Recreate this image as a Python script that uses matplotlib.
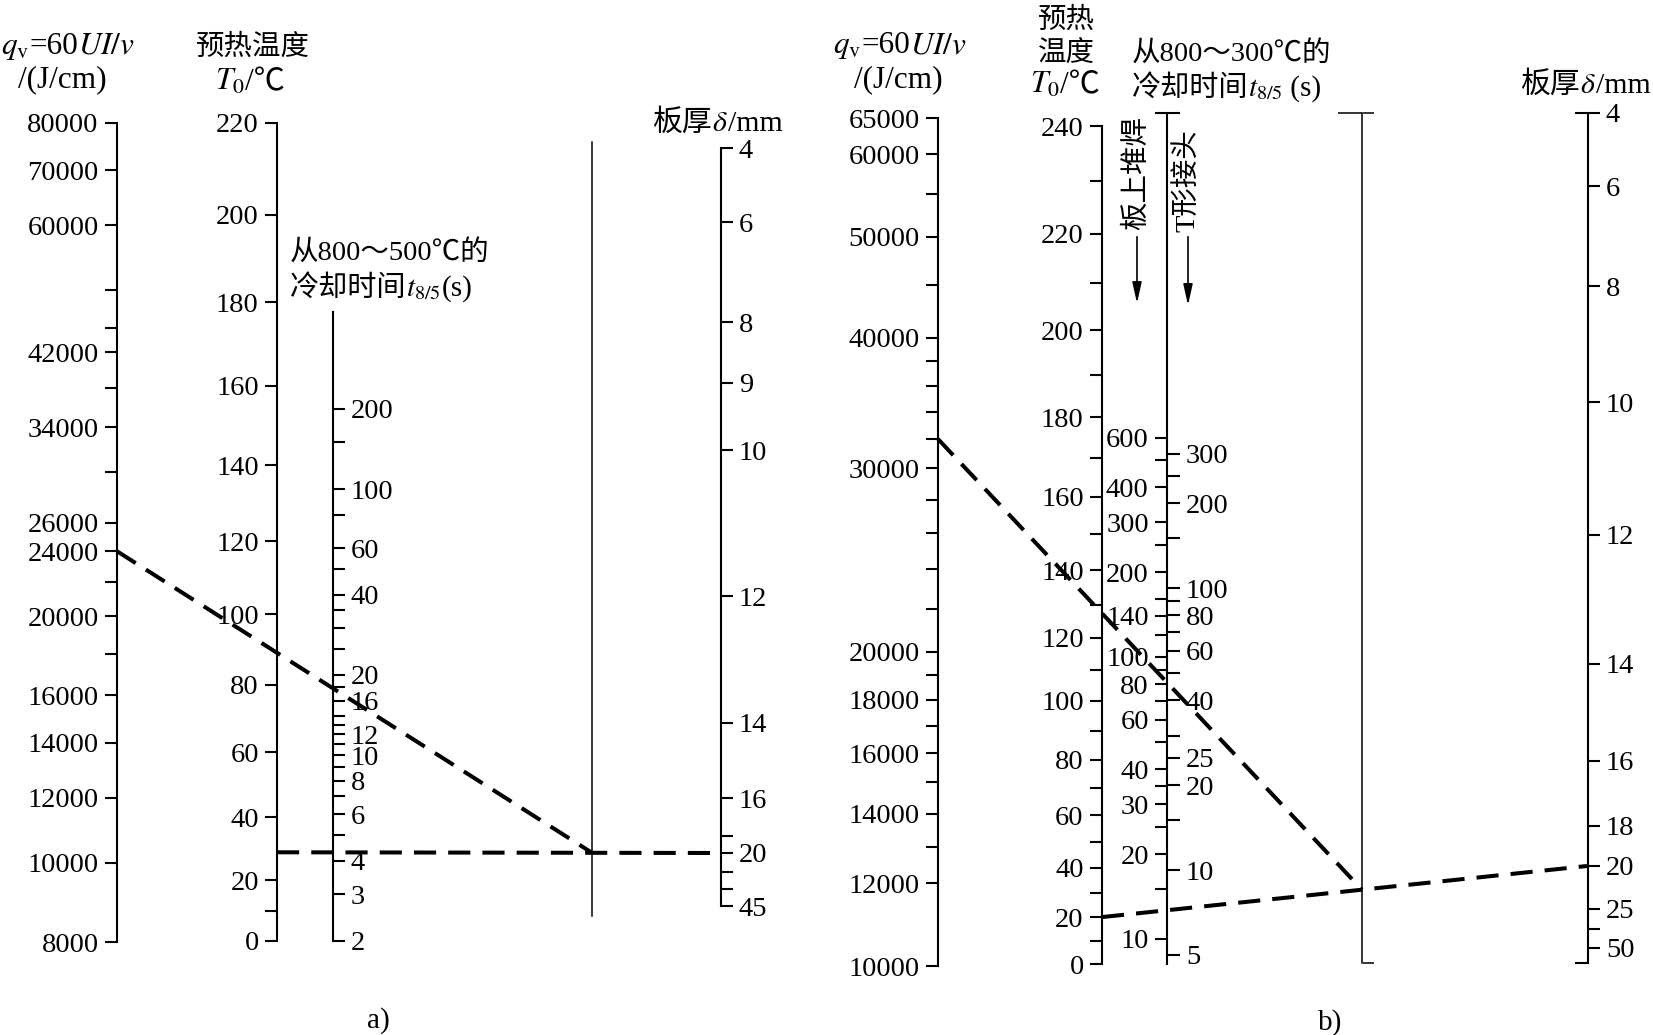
import numpy as np
import matplotlib
matplotlib.use("Agg")
import matplotlib.pyplot as plt
from matplotlib.ticker import FixedLocator, FuncFormatter, NullFormatter, NullLocator
from matplotlib.lines import Line2D
from matplotlib.patches import FancyArrowPatch

W, H = 1653, 1035
FS = 20.5
FAM = ['Liberation Serif', 'Noto Sans CJK SC']
plt.rcParams['font.family'] = FAM
plt.rcParams['mathtext.fontset'] = 'stix'

# ---------------- data: panel a ----------------
qa_labeled = [8000, 10000, 12000, 14000, 16000, 20000, 24000, 26000, 34000, 42000, 60000, 70000, 80000]
qa_minor = [18000, 22000, 30000, 38000, 45000, 50000]
t0a_labeled = list(range(0, 221, 20))
t0a_minor = [10]
ta_labeled = [2, 3, 4, 6, 8, 10, 12, 16, 20, 40, 60, 100, 200]
ta_minor = [5, 7, 9, 11, 13, 14, 18, 25, 30, 35, 50, 80, 150]
da_labeled = [4, 6, 8, 9, 10, 12, 14, 16, 20, 45]
da_minor = [18, 25, 30]
qa_example = 24000
t0a_example = 29
da_example = 20

# ---------------- data: panel b ----------------
qb_labeled = [10000, 12000, 14000, 16000, 18000, 20000, 30000, 40000, 50000, 60000, 65000]
qb_minor = [13000, 15000, 17000, 19000, 22000, 24000, 26000, 28000, 32000, 34000, 36000, 38000, 45000, 55000]
t0b_labeled = list(range(0, 241, 20))
t0b_minor = list(range(10, 231, 20))
tb_bead_labeled = [10, 20, 30, 40, 60, 80, 100, 140, 200, 300, 400, 600]
tb_bead_minor = [15, 25, 35, 50, 70, 90, 120, 160, 250, 500]
tb_tj_labeled = [5, 10, 20, 25, 40, 60, 80, 100, 200, 300]
tb_tj_minor = [15, 30, 50, 70, 90, 150, 250]
db_labeled = [4, 6, 8, 10, 12, 14, 16, 18, 20, 25, 50]
db_minor = [30]
qb_example = 32000
t0b_example = 20
db_example = 20

# empirical plate-thickness scales (value -> vertical pixel row)
da_scale_vals = [4, 6, 8, 9, 10, 12, 14, 16, 18, 20, 25, 30, 45]
da_scale_rows = [148, 222, 322, 383, 450, 596, 723, 798, 836, 853, 872, 889, 906]
db_scale_vals = [4, 6, 8, 10, 12, 14, 16, 18, 20, 25, 30, 50, 100]
db_scale_rows = [113, 186, 286, 402, 535, 664, 761, 826, 866, 909, 929, 948, 963]

fig = plt.figure(figsize=(W / 100, H / 100), dpi=100)
fig.patch.set_facecolor('white')
PX = 0.72  # points per pixel


def fx(x):
    return x / W


def fy(y):
    return 1 - y / H


def temp_scale(c):
    return (lambda T: -np.log10(c - np.asarray(T, float)),
            lambda p: c - 10.0 ** (-np.asarray(p, float)))


def interp_scale(vals, rows):
    vals = np.asarray(vals, float)
    rows = np.asarray(rows, float)
    return (lambda v: np.interp(v, vals, rows), lambda p: np.interp(p, rows, vals))


fmt = FuncFormatter(lambda v, p: f'{v:.0f}')


def make_axis(x, ytop, ybot, lim, scale=None, side='left', labeled=(), minor=(),
              spine=True, length=12, lw=1.5):
    ax = fig.add_axes([fx(x), fy(ybot), 0.6 / W, (ybot - ytop) / H])
    ax.patch.set_visible(False)
    for s in ax.spines.values():
        s.set_visible(False)
    ax.set_xlim(0, 1)
    ax.xaxis.set_major_locator(NullLocator())
    ax.xaxis.set_minor_locator(NullLocator())
    if scale == 'log':
        ax.set_yscale('log')
    elif scale is not None:
        ax.set_yscale('function', functions=scale)
    ax.set_ylim(*lim)
    if side == 'right':
        ax.yaxis.tick_right()
    ax.spines[side].set_visible(spine)
    ax.spines[side].set_linewidth(lw)
    ax.yaxis.set_major_locator(FixedLocator(list(labeled)))
    ax.yaxis.set_major_formatter(fmt)
    ax.yaxis.set_minor_locator(FixedLocator(list(minor)))
    ax.yaxis.set_minor_formatter(NullFormatter())
    ax.tick_params(axis='y', which='both', direction='out', length=length * PX,
                   width=lw, pad=4.5, labelsize=FS, colors='black')
    return ax


# ---------------- panel a axes ----------------
ax_qa = make_axis(117, 123, 942, (8000, 80000), 'log', 'left', qa_labeled, qa_minor)
ax_t0a = make_axis(277, 123, 941, (0, 220), temp_scale(600), 'left', t0a_labeled, t0a_minor)
ax_ta = make_axis(332, 312, 941, (2, 463), 'log', 'right', ta_labeled, ta_minor)
ax_pa = make_axis(592, 142, 916, (0, 1), None, 'left', [], [], lw=1.1)
ax_da = make_axis(720, 148, 906, (45, 4), interp_scale(da_scale_vals, da_scale_rows), 'right',
                  da_labeled, da_minor)

# ---------------- panel b axes ----------------
ax_qb = make_axis(938, 118, 966, (10000, 65000), 'log', 'left', qb_labeled, qb_minor)
ax_t0b = make_axis(1102, 126, 964, (0, 240), temp_scale(400), 'left', t0b_labeled, t0b_minor)
ax_bead = make_axis(1167, 113, 964, (8.15, 8490), 'log', 'left', tb_bead_labeled, tb_bead_minor + [8490])
ax_tj = make_axis(1167, 113, 955, (5, 4840), 'log', 'right', tb_tj_labeled, tb_tj_minor + [4840], spine=False)
ax_pb = make_axis(1362, 113, 963, (0, 1), None, 'left', [], [1], lw=1.1, length=24)
ax_pb2 = make_axis(1362, 113, 963, (0, 1), None, 'right', [], [0, 1], spine=False, lw=1.1, length=11)
db_scale = interp_scale(db_scale_vals, db_scale_rows)
ax_db = make_axis(1587, 113, 963, (100, 4), db_scale, 'right', db_labeled, db_minor)
ax_db2 = make_axis(1587, 113, 963, (100, 4), db_scale, 'left', [], [4, 100], spine=False)


# ---------------- example solution lines ----------------
def axis_point(ax, v):
    d = ax.transData.transform((0.0, v))
    return fig.transFigure.inverted().transform(d)


def example(q_ax, q_val, t0_ax, t0_val, piv_ax, d_ax, d_val):
    p1 = axis_point(t0_ax, t0_val)
    p2 = axis_point(d_ax, d_val)
    px = axis_point(piv_ax, 0.5)[0]
    py = p1[1] + (p2[1] - p1[1]) * (px - p1[0]) / (p2[0] - p1[0])
    p0 = axis_point(q_ax, q_val)
    for xs, ys in (([p0[0], px], [p0[1], py]), ([p1[0], p2[0]], [p1[1], p2[1]])):
        fig.add_artist(Line2D(xs, ys, transform=fig.transFigure, color='black', lw=2.9,
                              linestyle=(0, (5.5, 3)), dash_capstyle='butt', zorder=10))


example(ax_qa, qa_example, ax_t0a, t0a_example, ax_pa, ax_da, da_example)
example(ax_qb, qb_example, ax_t0b, t0b_example, ax_pb, ax_db, db_example)

# ---------------- text ----------------
renderer = fig.canvas.get_renderer()


def text_row(x, y, pieces, align='left', size=FS):
    objs = [fig.text(0, fy(y), s, ha='left', va='baseline', fontsize=size) for s in pieces]
    widths = [t.get_window_extent(renderer).width for t in objs]
    total = sum(widths)
    cur = x - {'left': 0, 'center': total / 2, 'right': total}[align]
    for t, w in zip(objs, widths):
        t.set_x(fx(cur))
        cur += w


TS = 22.5
# panel a
text_row(68, 54, [r'$q_{\rm v}$', '=60', r'$UI/v$'], 'center', TS)
text_row(62, 87, ['/(J/cm)'], 'center', TS)
text_row(253, 55, ['预热温度'], 'center')
text_row(250, 90, [r'$T_0$', '/℃'], 'center', TS)
text_row(290, 260, ['从800～500℃的'], 'left')
text_row(290, 296, ['冷却时间', r'$t_{8/5}$', '(s)'], 'left', 21)
text_row(652, 131, ['板厚', r'$\delta$', '/mm'], 'left', 21.5)
text_row(378, 1028, ['a)'], 'center', 21)

# panel b
text_row(900, 53, [r'$q_{\rm v}$', '=60', r'$UI/v$'], 'center', TS)
text_row(898, 87, ['/(J/cm)'], 'center', TS)
text_row(1066, 28, ['预热'], 'center')
text_row(1066, 62, ['温度'], 'center')
text_row(1065, 93, [r'$T_0$', '/℃'], 'center', TS)
text_row(1132, 61, ['从800～300℃的'], 'left')
text_row(1132, 96, ['冷却时间', r'$t_{8/5}$', ' (s)'], 'left', 21)
text_row(1520, 93, ['板厚', r'$\delta$', '/mm'], 'left', 21.5)
text_row(1330, 1030, ['b)'], 'center', 21)

fig.text(fx(1137), fy(173), '板上堆焊', rotation=90, ha='center', va='center', fontsize=FS)
fig.text(fx(1188), fy(181), 'T形接头', rotation=90, ha='center', va='center', fontsize=FS)
for xa, y0, y1 in ((1137, 234, 306), (1188, 234, 308)):
    fig.add_artist(FancyArrowPatch((fx(xa), fy(y0)), (fx(xa), fy(y1)), transform=fig.transFigure,
                                   arrowstyle='-|>,head_length=0.9,head_width=0.2',
                                   mutation_scale=14, lw=1.2, color='black'))

fig.savefig('out.png', dpi=100, facecolor='white')
